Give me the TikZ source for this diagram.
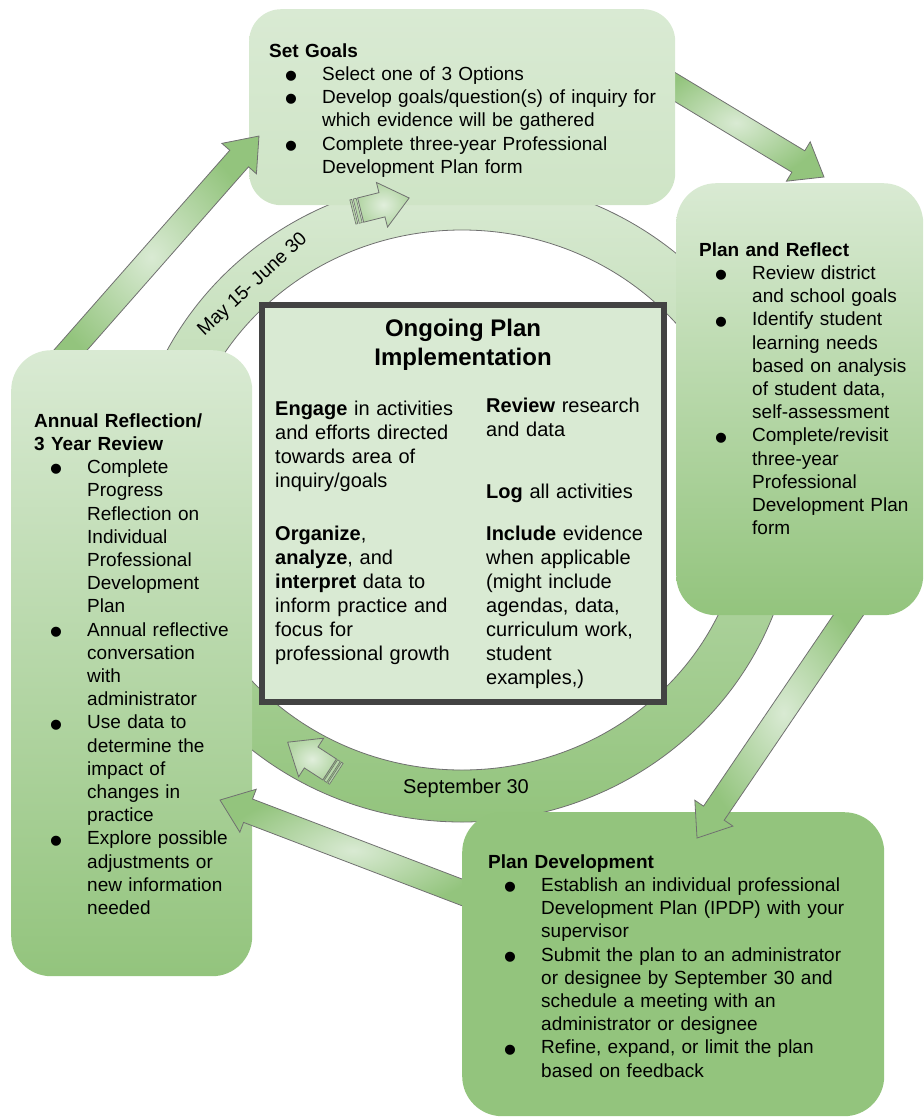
\documentclass[tikz,border=0pt]{standalone}
\usepackage{fontspec}
\setmainfont{Liberation Sans}
\usetikzlibrary{calc}

\definecolor{paleleaf}{HTML}{D9EAD3}
\definecolor{leaf}{HTML}{93C47D}
\definecolor{framegray}{HTML}{434343}
\definecolor{edgegray}{HTML}{707070}

\setlength{\parindent}{0pt}

% bullet list used inside the stage boxes
\newcommand{\stepdot}{\makebox[0pt]{\raisebox{-8.2pt}{\fontsize{37}{37}\selectfont\textbullet}}}
\newenvironment{steps}{%
  \begin{list}{\stepdot}{%
    \setlength{\leftmargin}{53pt}\setlength{\labelwidth}{0pt}\setlength{\labelsep}{31pt}%
    \setlength{\itemsep}{0pt}\setlength{\parsep}{0pt}\setlength{\topsep}{0pt}%
    \setlength{\partopsep}{0pt}\setlength{\parskip}{0pt}}}%
  {\end{list}}

% wide block arrow from #1 (tail) to #2 (tip)
\newcommand{\fatarrow}[2]{%
  \path[fatarrow] let \p1=($(#2)-(#1)$), \n1={atan2(\y1,\x1)}, \n2={veclen(\x1,\y1)} in
    [shift={(#1)}, rotate=\n1]
    (0pt,-12.5pt) -- ({\n2-30pt},-12.5pt) -- ({\n2-30pt},-23pt) -- (\n2,0pt)
    -- ({\n2-30pt},23pt) -- ({\n2-30pt},12.5pt) -- (0pt,12.5pt) -- cycle;}

\begin{document}
\begin{tikzpicture}[x=1pt,y=-1pt]
        \tikzstyle{stage} = [rectangle, rounded corners=40pt, inner sep=0pt, anchor=north west]
        \tikzstyle{stagetext} = [anchor=north west, inner sep=0pt, align=left, font=\fontsize{19}{23.2}\selectfont]
        \tikzstyle{hubtext} = [anchor=north west, inner sep=0pt, align=left, font=\fontsize{20}{24}\selectfont]
        \tikzstyle{hub} = [rectangle, draw=framegray, line width=6pt, fill=paleleaf, inner sep=0pt]
        \tikzstyle{fatarrow} = [draw=edgegray, line width=0.8pt, inner color=paleleaf, outer color=leaf]
        \tikzstyle{stripearrow} = [draw=edgegray, line width=0.8pt, inner color=paleleaf!80!white, outer color=paleleaf!45!leaf]
        \tikzstyle{datelabel} = [inner sep=0pt, font=\fontsize{19}{23}\selectfont]

        \useasboundingbox (0,0) rectangle (924,1117);

        % the yearly cycle band
        \path[draw=edgegray, line width=0.8pt, top color=paleleaf, bottom color=leaf, even odd rule]
            (462,500) ellipse [x radius=333, y radius=322]
            (462,500) ellipse [x radius=283, y radius=270];

        \node (ongoing) [hub, minimum width=402pt, minimum height=397pt] at (463,503.5) {};

        % ends of the arrows between the stages
        \coordinate (goalsOut) at (655,75);
        \coordinate (reflectIn) at (824,177);
        \coordinate (reflectOut) at (862,595);
        \coordinate (devIn) at (697,838);
        \coordinate (devOut) at (482,900);
        \coordinate (annualIn) at (220,800);
        \coordinate (annualOut) at (53,370);
        \coordinate (goalsIn) at (259,136);

        \fatarrow{goalsOut}{reflectIn}
        \node (goals) [stage, rounded corners=32pt, top color=paleleaf, bottom color=paleleaf!85!leaf, minimum width=426pt, minimum height=196pt] at (249,9) {};
        \fatarrow{annualOut}{goalsIn}
        \node (annual) [stage, top color=paleleaf, bottom color=leaf, minimum width=241pt, minimum height=626pt] at (11,350) {};
        \fatarrow{devOut}{annualIn}
        \node (plandev) [stage, fill=leaf, minimum width=422pt, minimum height=304pt] at (462,812) {};
        \fatarrow{reflectOut}{devIn}
        \node (reflect) [stage, top color=paleleaf, bottom color=leaf, minimum width=247pt, minimum height=432pt] at (676,183) {};

        % small arrows riding on the band
        \foreach \cx/\cy/\ang in {381/205/14, 312/758/147} {
            \begin{scope}[shift={(\cx,\cy)}, rotate=\ang]
                \path[draw=edgegray, line width=0.6pt, fill=paleleaf!50!leaf] (-29,-12.5) rectangle (-27,12.5);
                \path[draw=edgegray, line width=0.6pt, fill=paleleaf!50!leaf] (-25.5,-12.5) rectangle (-22.5,12.5);
                \path[stripearrow] (-21,-12.5) -- (1,-12.5) -- (1,-23) -- (29,0) -- (1,23) -- (1,12.5) -- (-21,12.5) -- cycle;
            \end{scope}
        }

        \node (goalstext) [stagetext, text width=400pt] at (269,40.8) {\strut\textbf{Set Goals}
            \begin{steps}
                \item Select one of 3 Options
                \item Develop goals/question(s) of inquiry for\\ which evidence will be gathered
                \item Complete three-year Professional\\ Development Plan form
            \end{steps}};

        \node (reflecttext) [stagetext, text width=225pt] at (699,239.8) {\strut\textbf{Plan and Reflect}
            \begin{steps}
                \item Review district\\ and school goals
                \item Identify student\\ learning needs\\ based on analysis\\ of student data,\\ self-assessment
                \item Complete/revisit\\ three-year\\ Professional\\ Development Plan\\ form
            \end{steps}};

        \node (plandevtext) [stagetext, text width=390pt] at (488,851.8) {\strut\textbf{Plan Development}
            \begin{steps}
                \item Establish an individual professional\\ Development Plan (IPDP) with your\\ supervisor
                \item Submit the plan to an administrator\\ or designee by September 30 and\\ schedule a meeting with an\\ administrator or designee
                \item Refine, expand, or limit the plan\\ based on feedback
            \end{steps}};

        \node (annualtext) [stagetext, text width=220pt] at (34,410.8) {\strut\textbf{Annual Reflection/}\\ \textbf{3 Year Review}
            \begin{steps}
                \item Complete\\ Progress\\ Reflection on\\ Individual\\ Professional\\ Development\\ Plan
                \item Annual reflective\\ conversation\\ with\\ administrator
                \item Use data to\\ determine the\\ impact of\\ changes in\\ practice
                \item Explore possible\\ adjustments or\\ new information\\ needed
            \end{steps}};

        % inside the centre box
        \node (hubtitle) [anchor=north, inner sep=0pt, align=center, font=\fontsize{24}{29}\selectfont\bfseries] at (463,315.7) {\strut Ongoing Plan\\ Implementation};
        \node (engage) [hubtext, text width=200pt] at (275,398.2) {\strut\textbf{Engage} in activities\\ and efforts directed\\ towards area of\\ inquiry/goals};
        \node (organize) [hubtext, text width=200pt] at (275,523.2) {\strut\textbf{Organize},\\ \textbf{analyze}, and\\ \textbf{interpret} data to\\ inform practice and\\ focus for\\ professional growth};
        \node (review) [hubtext, text width=175pt] at (486,395.2) {\strut\textbf{Review} research\\ and data};
        \node (logall) [hubtext, text width=175pt] at (486,481.2) {\strut\textbf{Log} all activities};
        \node (include) [hubtext, text width=175pt] at (486,523.2) {\strut\textbf{Include} evidence\\ when applicable\\ (might include\\ agendas, data,\\ curriculum work,\\ student\\ examples,)};

        \node (spring) [datelabel, rotate=43] at (253,285) {May 15- June 30};
        \node (fall) [datelabel, font=\fontsize{20}{24}\selectfont] at (466,788) {September 30};
    \end{tikzpicture}
\end{document}
